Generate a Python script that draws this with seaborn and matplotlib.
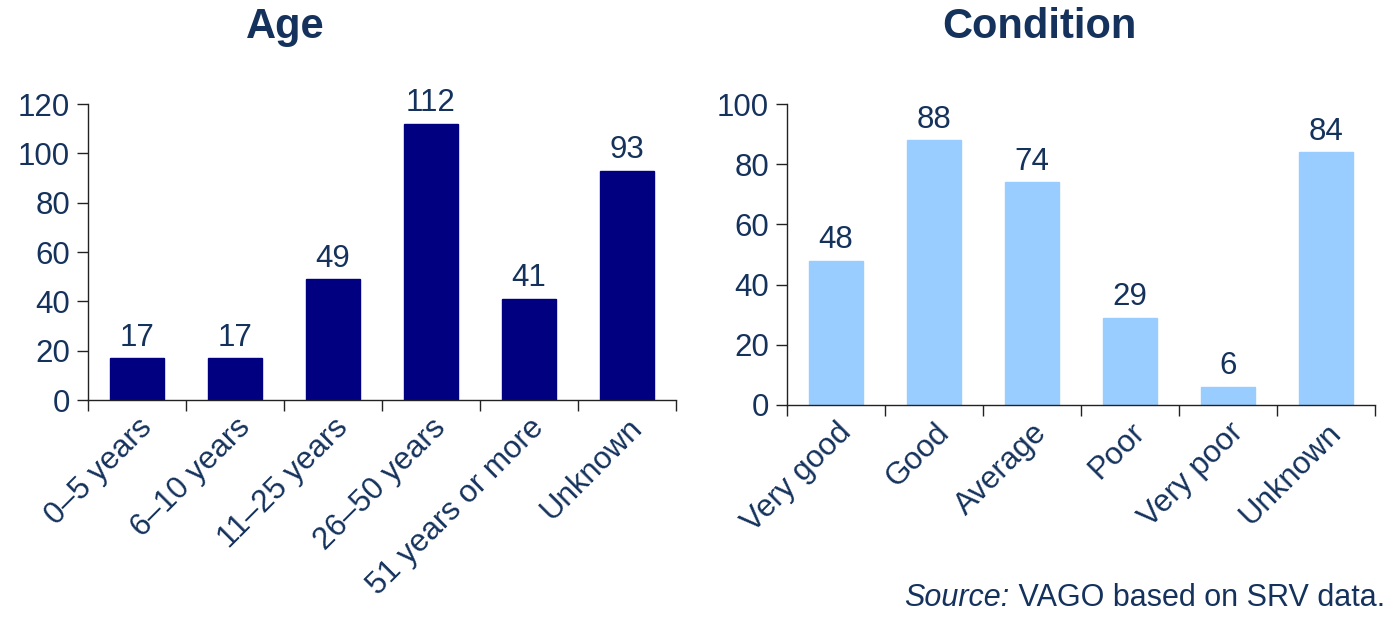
import matplotlib
matplotlib.use("Agg")
import matplotlib.pyplot as plt
import seaborn as sns
import pandas as pd
import numpy as np

age_labels = ["0–5 years", "6–10 years", "11–25 years", "26–50 years", "51 years or more", "Unknown"]
age_values = [17, 17, 49, 112, 41, 93]
cond_labels = ["Very good", "Good", "Average", "Poor", "Very poor", "Unknown"]
cond_values = [48, 88, 74, 29, 6, 84]
age_ticks = [0, 20, 40, 60, 80, 100, 120]
cond_ticks = [0, 20, 40, 60, 80, 100]

sns.set_theme(style="white")
plt.rcParams['font.family'] = ['Liberation Sans', 'DejaVu Sans']

TEXT = "#14325c"
FS = 22.5
W, H = 1387, 618
fig = plt.figure(figsize=(W / 100, H / 100), dpi=100)

def draw(ax, labels, values, color, ticks):
    df = pd.DataFrame({"cat": labels, "val": values})
    sns.barplot(data=df, x="cat", y="val", color=color, width=0.56, ax=ax,
                saturation=1, edgecolor=color)
    ax.set_xlim(-0.5, len(labels) - 0.5)
    ax.set_ylim(ticks[0], ticks[-1])
    ax.set_yticks(ticks)
    ax.set_xlabel("")
    ax.set_ylabel("")
    for s in ["top", "right"]:
        ax.spines[s].set_visible(False)
    for s in ["left", "bottom"]:
        ax.spines[s].set_color("#222222")
        ax.spines[s].set_linewidth(1.0)
    ax.tick_params(axis="y", length=8, width=1, color="#222222", labelsize=FS,
                   labelcolor=TEXT, pad=5, left=True)
    ax.set_xticks(range(len(labels)))
    ax.set_xticklabels(labels, rotation=45, ha="right", rotation_mode="anchor")
    ax.tick_params(axis="x", which="major", length=0, labelsize=FS, labelcolor=TEXT, pad=9)
    ax.set_xticks(np.arange(-0.5, len(labels), 1.0), minor=True)
    ax.tick_params(axis="x", which="minor", length=8, width=1, color="#222222", bottom=True)
    for i, v in enumerate(values):
        ax.annotate(str(v), (i, v), xytext=(0, 4), textcoords="offset points",
                    ha="center", va="bottom", fontsize=FS, color=TEXT)

ax1 = fig.add_axes([88 / W, 1 - 400 / H, (676 - 88) / W, (400 - 104) / H])
ax2 = fig.add_axes([787 / W, 1 - 405 / H, (1375 - 787) / W, (405 - 104) / H])
draw(ax1, age_labels, age_values, "#000080", age_ticks)
draw(ax2, cond_labels, cond_values, "#99ccff", cond_ticks)

fig.text(285 / W, 1 - 27 / H, "Age", ha="center", va="center", fontsize=30,
         fontweight="bold", color=TEXT)
fig.text(1039 / W, 1 - 27 / H, "Condition", ha="center", va="center", fontsize=30,
         fontweight="bold", color=TEXT)

main = fig.text(1385 / W, 1 - 606 / H, " VAGO based on SRV data.", ha="right", va="baseline",
                fontsize=22, color=TEXT)
fig.canvas.draw()
r = fig.canvas.get_renderer()
bb = main.get_window_extent(r)
fig.text(bb.x0 / W, 1 - 606 / H, "Source:", fontsize=22, style="italic", color=TEXT,
         ha="right", va="baseline")

fig.savefig("out.png", dpi=100)
